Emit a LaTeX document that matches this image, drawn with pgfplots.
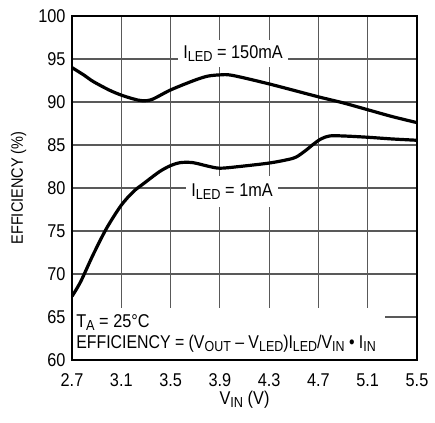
\documentclass[border=0pt]{standalone}
\usepackage{fontspec}
\setmainfont{Liberation Sans}[FakeStretch=0.88]
\usepackage{pgfplots}
\pgfplotsset{compat=1.18}
\newcommand{\sub}[1]{\raisebox{-2.8pt}{\fontsize{14.5}{15}\selectfont #1}}
\newcommand{\bigfont}{\fontsize{18.5}{20}\selectfont}
\begin{document}
\begin{tikzpicture}
\begin{axis}[
 scale only axis, width=345pt, height=344pt,
 xmin=2.7, xmax=5.5, ymin=60, ymax=100,
 xtick={2.7,3.1,3.5,3.9,4.3,4.7,5.1,5.5},
 xticklabels={2.7,3.1,3.5,3.9,4.3,4.7,5.1,5.5},
 ytick={60,65,70,75,80,85,90,95,100},
 yticklabels={60,65,70,75,80,85,90,95,100},
 major tick length=0pt,
 grid=major, grid style={black!65, line width=1.1pt},
 axis line style={line width=1.6pt},
 tick label style={font=\bigfont},
 xticklabel style={anchor=base, yshift=-26.5pt},
 yticklabel style={anchor=east, xshift=-3pt},
 xlabel={V\sub{IN} (V)}, ylabel={EFFICIENCY (\%)},
 xlabel style={font=\bigfont, at={(axis description cs:0.5,-0.1308)}, anchor=base},
 ylabel style={font=\fontsize{16.5}{17}\selectfont, at={(axis description cs:-0.155,0.5)}, anchor=center},
]
\coordinate (sw) at (rel axis cs:0,0);
\coordinate (ne) at (rel axis cs:1,1);
\fill[white] (axis cs:2.712,60.12) rectangle (axis cs:5.24,66.05);
\addplot[black, line width=3.2pt, smooth, tension=0.5] coordinates {
(2.70,94.0) (2.80,93.1) (2.87,92.4) (3.00,91.4) (3.10,90.8) (3.20,90.35)
(3.27,90.15) (3.35,90.3) (3.50,91.4) (3.69,92.5) (3.80,93.0) (3.90,93.15)
(4.00,93.1) (4.30,92.1) (4.70,90.6) (4.90,89.9) (5.10,89.1) (5.30,88.3) (5.50,87.6)
};
\addplot[black, line width=3.2pt, smooth, tension=0.5] coordinates {
(2.70,67.4) (2.77,69.1) (2.87,72.2) (2.98,75.3) (3.10,78.0) (3.20,79.6)
(3.28,80.5) (3.41,81.9) (3.50,82.6) (3.58,82.95) (3.68,82.95) (3.80,82.55)
(3.90,82.3) (4.06,82.5) (4.30,82.9) (4.45,83.3) (4.52,83.6) (4.60,84.4)
(4.66,85.1) (4.72,85.7) (4.79,86.05) (4.90,86.05) (5.10,85.9) (5.30,85.7) (5.50,85.55)
};
\node[fill=white, inner xsep=5pt, minimum height=27pt, font=\bigfont] at (axis cs:4.007,95.6) {I\sub{LED} = 150mA};
\node[fill=white, inner xsep=5pt, minimum height=31pt, font=\bigfont] at (axis cs:3.999,79.6) {I\sub{LED} = 1mA};
\node[anchor=base west, inner sep=0pt, font=\bigfont] at (axis cs:2.733,63.78) {T\sub{A} = 25°C};
\node[anchor=base west, inner sep=0pt, font=\bigfont] at (axis cs:2.733,61.28) {\scalebox{0.975}[1]{EFFICIENCY = (V\sub{OUT} – V\sub{LED})I\sub{LED}/V\sub{IN} • I\sub{IN}}};
\end{axis}
\path ([shift={(-72pt,-63pt)}]sw) rectangle ([shift={(18pt,16pt)}]ne);
\end{tikzpicture}
\end{document}
